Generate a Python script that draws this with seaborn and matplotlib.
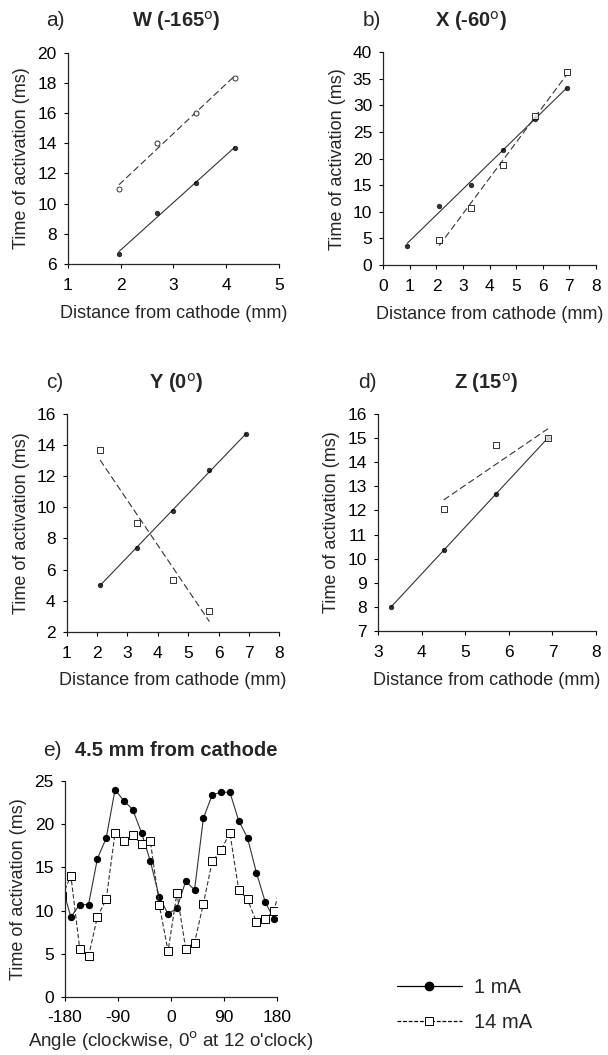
import matplotlib
matplotlib.use("Agg")
import matplotlib.pyplot as plt
from matplotlib.lines import Line2D
import seaborn as sns

# panel a) W (-165)
a_dist = [1.97, 2.69, 3.42, 4.16]
a_1ma = [6.66, 9.36, 11.35, 13.67]
a_14ma = [11.0, 14.0, 16.0, 18.35]

# panel b) X (-60)
b_dist = [0.9, 2.1, 3.3, 4.5, 5.7, 6.9]
b_1ma = [3.5, 11.1, 15.1, 21.7, 27.4, 33.3]
b_dist14 = [2.1, 3.3, 4.5, 5.7, 6.9]
b_14ma = [4.7, 10.8, 18.8, 28.0, 36.3]

# panel c) Y (0)
c_dist = [2.1, 3.3, 4.5, 5.7, 6.9]
c_1ma = [5.03, 7.38, 9.74, 12.39, 14.71]
c_dist14 = [2.1, 3.3, 4.5, 5.7]
c_14ma = [13.68, 9.0, 5.35, 3.35]

# panel d) Z (15)
d_dist = [3.3, 4.5, 5.7, 6.9]
d_1ma = [8.0, 10.35, 12.7, 15.0]
d_dist14 = [4.5, 5.7, 6.9]
d_14ma = [12.04, 14.7, 15.0]

# panel e) 4.5 mm from cathode (first/last points lie just outside the axis)
angles_1 = [-185, -170, -155, -140, -125, -110, -95, -80, -65, -50, -35, -20, -5,
            10, 25, 40, 55, 70, 85, 100, 115, 130, 145, 160, 175]
e_1ma = [12.8, 9.25, 10.7, 10.7, 16.0, 18.4, 24.0, 22.7, 21.7, 19.0, 15.7, 11.6, 9.6,
         10.3, 13.4, 12.4, 20.7, 23.4, 23.7, 23.7, 20.4, 18.4, 14.4, 11.0, 9.0]
angles_14 = [-185, -170, -155, -140, -125, -110, -95, -80, -65, -50, -35, -20, -5,
             10, 25, 40, 55, 70, 85, 100, 115, 130, 145, 160, 175, 190]
e_14ma = [11.7, 14.0, 5.6, 4.7, 9.3, 11.3, 19.0, 18.0, 18.7, 17.7, 18.0, 10.7, 5.3,
          12.0, 5.6, 6.3, 10.8, 15.7, 17.0, 19.0, 12.4, 11.3, 8.7, 9.0, 10.0, 14.0]

sns.set_style("ticks")
plt.rcParams['font.family'] = ['Liberation Sans', 'DejaVu Sans']
plt.rcParams['axes.unicode_minus'] = False
plt.rcParams['axes.linewidth'] = 0.9
plt.rcParams['xtick.major.width'] = 0.8
plt.rcParams['ytick.major.width'] = 0.8
plt.rcParams['xtick.major.size'] = 3
plt.rcParams['ytick.major.size'] = 3

W, H = 608, 1055
fig = plt.figure(figsize=(W / 100, H / 100), dpi=100)


def add_ax(left, right, top, bottom):
    return fig.add_axes([left / W, 1 - bottom / H, (right - left) / W, (bottom - top) / H])


LINE = "#333333"
DASH = (0, (6, 3))
TICK_FS = 12.5
LAB_FS = 13


def reg_panel(ax, x1, y1, x2, y2, marker2):
    sns.regplot(x=x1, y=y1, ax=ax, ci=None, truncate=True, marker='o',
                scatter_kws=dict(s=11, color='black', edgecolors='black', linewidths=0.5, zorder=3),
                line_kws=dict(color=LINE, lw=0.8))
    sns.regplot(x=x2, y=y2, ax=ax, ci=None, truncate=True, marker=marker2,
                scatter_kws=dict(s=13, facecolors='white', edgecolors='black', linewidths=0.7, zorder=3),
                line_kws=dict(color=LINE, lw=0.8, linestyle=DASH))


def style(ax, xl, yl, xticks, yticks, ylab_px, left_px, width_px, xpad=7):
    ax.set_xlim(xl)
    ax.set_ylim(yl)
    ax.set_xticks(xticks)
    ax.set_yticks(yticks)
    ax.tick_params(labelsize=TICK_FS, pad=5, colors='black')
    ax.tick_params(axis='x', pad=xpad)
    sns.despine(ax=ax)
    ax.set_ylabel("Time of activation (ms)", fontsize=LAB_FS)
    ax.yaxis.set_label_coords((ylab_px + 8 - left_px) / width_px, 0.5)


def titles(letter, lx, name, nx, y):
    fig.text(lx / W, 1 - y / H, letter, fontsize=15, ha='center', va='center')
    fig.text(nx / W, 1 - y / H, name, fontsize=14.5, fontweight='bold', ha='center', va='center')


XLAB = "Distance from cathode (mm)"

# a)
ax = add_ax(67.7, 279, 52.7, 264)
reg_panel(ax, a_dist, a_1ma, a_dist, a_14ma, 'o')
style(ax, (1, 5), (6, 20), [1, 2, 3, 4, 5], range(6, 21, 2), 22, 67.7, 211.3)
ax.set_xlabel(XLAB, fontsize=LAB_FS, labelpad=8.5)
titles("a)", 55, r"W (-165$^{\mathrm{o}}$)", 176, 21)

# b)
ax = add_ax(383.3, 596, 52.3, 265)
reg_panel(ax, b_dist, b_1ma, b_dist14, b_14ma, 's')
style(ax, (0, 8), (0, 40), range(0, 9), range(0, 41, 5), 338, 383.3, 212.7)
ax.set_xlabel(XLAB, fontsize=LAB_FS, labelpad=8.5)
titles("b)", 372, r"X (-60$^{\mathrm{o}}$)", 471, 21)

# c)
ax = add_ax(66.7, 279.3, 414, 631.7)
reg_panel(ax, c_dist, c_1ma, c_dist14, c_14ma, 's')
style(ax, (1, 8), (2, 16), range(1, 9), range(2, 17, 2), 22, 66.7, 212.6)
ax.set_xlabel(XLAB, fontsize=LAB_FS, labelpad=8.5)
titles("c)", 55, r"Y (0$^{\mathrm{o}}$)", 176, 383)

# d)
ax = add_ax(378.3, 596, 414, 631)
reg_panel(ax, d_dist, d_1ma, d_dist14, d_14ma, 's')
style(ax, (3, 8), (7, 16), range(3, 9), range(7, 17), 332, 378.3, 217.7)
ax.set_xlabel(XLAB, fontsize=LAB_FS, labelpad=8.5)
titles("d)", 367, r"Z (15$^{\mathrm{o}}$)", 486, 383)

# e)
ax = add_ax(65, 277, 781, 997)
sns.lineplot(x=angles_1, y=e_1ma, ax=ax, sort=False, color=LINE, lw=0.8,
             marker='o', markersize=4.5, markerfacecolor='black', markeredgecolor='black')
sns.lineplot(x=angles_14, y=e_14ma, ax=ax, sort=False, color=LINE, lw=0.8, linestyle=(0, (4, 2)),
             marker='s', markersize=5.5, markerfacecolor='white', markeredgecolor='black',
             markeredgewidth=0.7)
style(ax, (-180, 180), (0, 25), [-180, -90, 0, 90, 180], range(0, 26, 5), 19, 65, 212, xpad=6)
ax.set_xlabel(r"Angle (clockwise, 0$^{\mathrm{o}}$ at 12 o'clock)", fontsize=13.5, labelpad=4)
fig.text(43 / W, 1 - 750 / H, "e)", fontsize=15, ha='left', va='center')
fig.text(75 / W, 1 - 750 / H, "4.5 mm from cathode", fontsize=14.5, fontweight='bold',
         ha='left', va='center')

handles = [
    Line2D([], [], color='black', lw=0.9, marker='o', markersize=6,
           markerfacecolor='black'),
    Line2D([], [], color='black', lw=0.9, linestyle=(0, (3, 1.5)), marker='s', markersize=6,
           markerfacecolor='white', markeredgewidth=0.7),
]
fig.legend(handles, ["1 mA", "14 mA"], loc='center left', bbox_to_anchor=(379 / W, 1 - 1005 / H),
           frameon=False, fontsize=14.5, handlelength=3.2, handletextpad=0.6, labelspacing=0.75)

fig.savefig("out.png", dpi=100)
